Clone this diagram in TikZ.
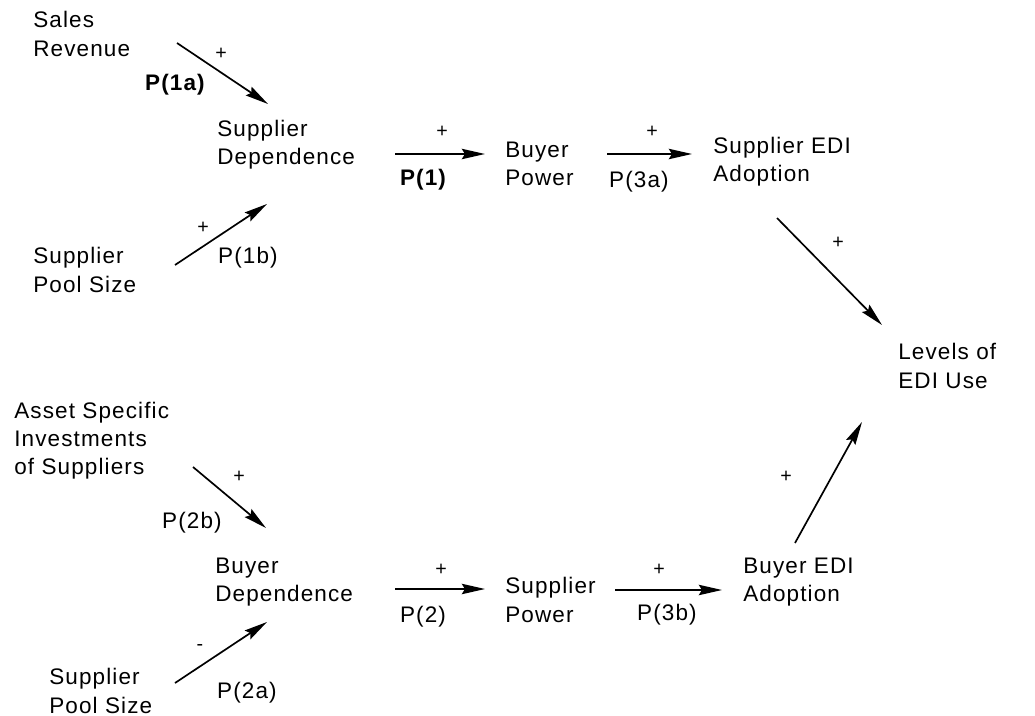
\documentclass[tikz,border=0pt]{standalone}
\usepackage{fontspec}
\setmainfont{Liberation Sans}[LetterSpace=5]
\usepackage{tikz}
\usetikzlibrary{arrows.meta}
\tikzstyle{concept} = [anchor=west, align=left, inner sep=0pt, font=\fontsize{16}{20}\selectfont]
\tikzstyle{plabel} = [inner sep=0pt, font=\fontsize{16}{20}\selectfont]
\tikzstyle{sign} = [inner sep=0pt, font=\fontsize{14}{16}\selectfont]
\tikzstyle{arrow} = [line width=1.2pt, -{Stealth[length=0.58cm, width=0.26cm, inset=0.08cm]}]

\begin{document}
\begin{tikzpicture}[x=0.025cm, y=-0.025cm]
\useasboundingbox (0,0) rectangle (1035,716);

% Antecedents of supplier dependence
\node[concept] (salesrev) at (33,34) {Sales\\Revenue};
\node[concept] (suppool1) at (33,270) {Supplier\\Pool Size};
\node[concept] (supdep) at (217,145) {Supplier\\Dependence};

% Top chain
\node[concept] (buypow) at (505,164) {Buyer\\Power};
\node[concept] (supedi) at (713,162) {Supplier EDI\\Adoption};

% Outcome
\node[concept] (levels) at (898,366) {Levels of\\EDI Use};

% Antecedents of buyer dependence
\node[concept] (asset) at (14,441) {Asset Specific\\Investments\\of Suppliers};
\node[concept] (suppool2) at (49,691) {Supplier\\Pool Size};
\node[concept] (buydep) at (215,582) {Buyer\\Dependence};

% Bottom chain
\node[concept] (suppow) at (505,600) {Supplier\\Power};
\node[concept] (buyedi) at (743,582) {Buyer EDI\\Adoption};

% Arrows, top half
\draw[arrow] ([shift={(144,9)}]salesrev.west) -- ([shift={(51,-41)}]supdep.west);
\node[sign] (s1a) at (221,54) {+};
\node[plabel, font=\fontsize{16}{20}\selectfont\bfseries] (p1a) at (175,85) {P(1a)};

\draw[arrow] ([shift={(142,-5)}]suppool1.west) -- ([shift={(50,59)}]supdep.west);
\node[sign] (s1b) at (203,228) {+};
\node[plabel] (p1b) at (248,258) {P(1b)};

\draw[arrow] ([shift={(178,9)}]supdep.west) -- ([shift={(-20,-10)}]buypow.west);
\node[sign] (s1) at (442,132) {+};
\node[plabel, font=\fontsize{16}{20}\selectfont\bfseries] (p1) at (423,180) {P(1)};

\draw[arrow] ([shift={(102,-10)}]buypow.west) -- ([shift={(-21,-8)}]supedi.west);
\node[sign] (s3a) at (652,132) {+};
\node[plabel] (p3a) at (639,182) {P(3a)};

\draw[arrow] ([shift={(64,56)}]supedi.west) -- ([shift={(-16,-41)}]levels.west);
\node[sign] (s4) at (838,243) {+};

% Arrows, bottom half
\draw[arrow] ([shift={(179,26)}]asset.west) -- ([shift={(51,-54)}]buydep.west);
\node[sign] (s2b) at (239,477) {+};
\node[plabel] (p2b) at (192,523) {P(2b)};

\draw[arrow] ([shift={(126,-8)}]suppool2.west) -- ([shift={(52,40)}]buydep.west);
\node[sign] (s2a) at (200,647) {-};
\node[plabel] (p2a) at (247,693) {P(2a)};

\draw[arrow] ([shift={(180,7)}]buydep.west) -- ([shift={(-20,-11)}]suppow.west);
\node[sign] (s2) at (441,570) {+};
\node[plabel] (p2) at (423,617) {P(2)};

\draw[arrow] ([shift={(110,-10)}]suppow.west) -- ([shift={(-21,8)}]buyedi.west);
\node[sign] (s3b) at (659,570) {+};
\node[plabel] (p3b) at (667,615) {P(3b)};

\draw[arrow] ([shift={(52,-39)}]buyedi.west) -- ([shift={(-36,56)}]levels.west);
\node[sign] (s5) at (786,477) {+};
\end{tikzpicture}
\end{document}
